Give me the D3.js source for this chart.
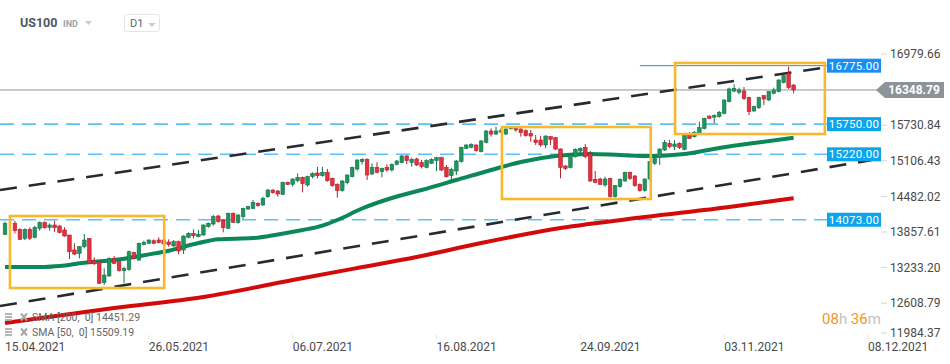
<!DOCTYPE html>
<html>
<head>
<meta charset="utf-8">
<script src="https://cdn.jsdelivr.net/npm/d3@7"></script>
<style>
body { margin: 0; background: #fff; }
svg { display: block; font-family: Roboto, "Noto Sans", sans-serif; }
</style>
</head>
<body>
<svg id="chart"></svg>
<script>
// daily candles [open, high, low, close], one per bar (null = no bar)
let candles = [
  [13816,14039,13805,14009], null, [14009,14056,13834,13881], [13904,13922,13717,13729],
  [13746,13922,13717,13904], [13904,13939,13717,13746], [13764,13963,13746,13939], [13922,14044,13881,14021],
  [14027,14044,13916,13933], [13939,14009,13881,13980], [13980,14056,13857,13933], [13963,13974,13834,13846],
  [13893,13939,13776,13787], [13805,13805,13384,13512], [13542,13659,13454,13472], [13483,13612,13395,13600],
  [13600,13822,13571,13717], [13746,13746,13296,13308], [13354,13413,13279,13308], [13337,13337,12945,12957],
  [12969,13220,12928,13103], [13086,13413,13074,13395], [13395,13436,13296,13308], [13337,13337,13162,13179],
  [13179,13249,12957,13220], [13203,13530,13179,13512], [13495,13512,13378,13395], [13366,13670,13354,13659],
  [13635,13705,13624,13676], [13659,13729,13647,13717], [13705,13729,13647,13659], [13717,13764,13659,13670],
  [13717,13729,13629,13647], [13682,13729,13600,13635], [13612,13717,13600,13688], [13688,13705,13466,13524],
  [13542,13799,13472,13787], [13764,13852,13746,13834], [13834,13904,13746,13793], [13776,13893,13764,13816],
  [13805,13992,13793,13980], [13951,14027,13933,14009], [13998,14156,13968,14126], [14138,14156,14021,14039],
  [14068,14085,13851,13933], [13922,14197,13910,14185], [14185,14202,14015,14027], [14021,14167,14004,14156],
  [14126,14284,14085,14272], [14261,14319,14243,14302], [14272,14419,14261,14378], [14360,14378,14302,14319],
  [14331,14477,14319,14448], [14477,14612,14460,14594], [14594,14606,14530,14547], [14577,14594,14477,14524],
  [14518,14740,14506,14729], [14729,14740,14682,14693], [14693,14799,14653,14787], [14758,14886,14729,14816],
  [14816,14828,14553,14705], [14682,14845,14653,14828], [14828,14904,14799,14886], [14892,14998,14799,14846],
  [14846,14998,14828,14904], [14904,14963,14740,14758], [14799,14810,14653,14670], [14693,14711,14460,14582],
  [14582,14770,14565,14752], [14723,14869,14693,14857], [14828,15003,14816,14992], [14962,15132,14933,15120],
  [15091,15150,15044,15132], [15132,15150,14770,14857], [14875,15062,14857,14992], [14992,15079,14886,14904],
  [14916,14986,14816,14974], [14992,15044,14916,14945], [14945,15062,14916,15044], [15044,15120,15027,15103],
  [15074,15208,15062,15191], [15191,15208,15050,15109], [15074,15161,15003,15132], [15138,15161,15015,15033],
  [15074,15120,14974,15003], [14992,15132,14974,15109], [15062,15150,15050,15132], [15109,15179,14927,15161],
  [15161,15179,14927,14945], [14992,15033,14810,14828], [14846,14986,14752,14957], [14927,15120,14857,15103],
  [15091,15354,15074,15343], [15325,15395,15313,15384], [15343,15413,15325,15395], [15384,15395,15267,15284],
  [15267,15471,15255,15454], [15430,15647,15413,15629], [15629,15676,15530,15576], [15576,15705,15559,15629],
  [15610,15670,15590,15640], [15576,15676,15559,15664], [15670,15705,15658,15693], [15676,15693,15617,15647],
  [15664,15676,15530,15600], [15635,15658,15530,15547], [15588,15647,15442,15541], [15471,15559,15384,15424],
  [15471,15541,15354,15384], [15384,15553,15325,15541], [15530,15541,15384,15483], [15512,15518,15296,15313],
  [15313,15325,14799,14992], [15015,15033,14945,14974], [14992,15226,14974,15208], [15179,15325,15161,15308],
  [15278,15343,15191,15325], [15343,15401,15150,15179], [15230,15278,14740,14752], [14781,14927,14711,14729],
  [14787,14810,14682,14693], [14682,14828,14653,14787], [14799,14810,14460,14477], [14477,14682,14460,14670],
  [14653,14799,14635,14781], [14752,14916,14740,14904], [14904,14916,14770,14799], [14840,14857,14653,14670],
  [14693,14711,14565,14582], [14582,14799,14565,14787], [14787,15103,14770,15091], [15062,15196,15033,15161],
  [15161,15325,15033,15313], [15296,15471,15278,15430], [15413,15471,15325,15354], [15354,15471,15296,15401],
  [15413,15430,15313,15337], [15308,15570,15290,15559], [15559,15606,15489,15500], [15530,15629,15512,15606],
  [15588,15793,15570,15688], [15676,15863,15658,15851], [15892,15898,15839,15851], [15880,15922,15763,15898],
  [15880,15980,15863,15956], [15939,16184,15921,16173], [16144,16389,16132,16366], [16330,16448,16307,16377],
  [16307,16389,16272,16348], [16330,16401,16173,16202], [16214,16231,15910,15968], [15980,16073,15968,16056],
  [16038,16231,16015,16214], [16249,16260,16085,16190], [16173,16331,16155,16319], [16290,16389,16272,16348],
  [16319,16535,16307,16524], [16477,16623,16465,16600], [16640,16758,16366,16389], [16436,16448,16290,16348.79]
];

// moving averages [bar, value]
let sma50 = [[0,13243],[8,13245],[11,13260],[16,13320],[20,13350],[24,13390],[28,13450],[33,13530],[39,13664],
  [43,13730],[50,13752],[55,13815],[60,13892],[64,13970],[67,14068],[72,14270],[78,14454],[84,14594],[91,14769],
  [98,14945],[104,15085],[111,15190],[118,15226],[124,15208],[130,15190],[137,15226],[144,15331],[151,15419],[159,15509.19]];
let sma200 = [[0,12261],[22,12524],[40,12717],[58,13015],[71,13226],[83,13419],[96,13664],[112,13927],
  [129,14120],[146,14296],[159,14451.29]];

// drawn channel lines [bar, price]
let channelUpper = [[-1,14594],[164.7,16734]];
let channelLower = [[-1,12559],[174.8,15120]];

// highlighted zones [fromBar, toBar, top, bottom]
let zones = [[1,32.1,14138,12875],[100.2,130.2,15699,14436],[135.1,165.3,16822,15576]];

let levels = [16775, 15750, 15220, 14073];
let lastPrice = 16348.79;

let yTicks = [16979.66, 15730.84, 15106.43, 14482.02, 13857.61, 13233.20, 12608.79, 11984.37];
let dateIdx = [0, 29, 58, 87, 116, 145, 174];
let dateLabels = ["15.04.2021", "26.05.2021", "06.07.2021", "16.08.2021", "24.09.2021", "03.11.2021", "08.12.2021"];

let W = 950, H = 364;
let svg = d3.select('#chart').attr('width', W).attr('height', H);

let x = d3.scaleLinear().domain([0, 174]).range([5, 868]);
let y = d3.scaleLinear().domain([11984.37, 16979.66]).range([338.8, 54]);

// header
svg.append('text').attr('x', 20).attr('y', 27).attr('font-size', 12.5).attr('font-weight', 700)
  .attr('fill', '#4d5862').text('US100');
svg.append('text').attr('x', 63).attr('y', 27).attr('font-size', 9).attr('font-weight', 700)
  .attr('fill', '#9aa4ad').text('IND');
svg.append('path').attr('d', 'M85,21 L92,21 L88.5,25 Z').attr('fill', '#c8cdd2');
svg.append('rect').attr('x', 124.5).attr('y', 14.5).attr('width', 35).attr('height', 17).attr('rx', 2)
  .attr('fill', '#fff').attr('stroke', '#e3e6e9');
svg.append('text').attr('x', 130).attr('y', 27).attr('font-size', 11).attr('fill', '#5b6670').text('D1');
svg.append('path').attr('d', 'M148,23 L156,23 L152,27 Z').attr('fill', '#c8cdd2');

// horizontal levels
levels.forEach(function (v, k) {
  if (k === 0) {
    svg.append('line').attr('x1', x(128)).attr('x2', 827).attr('y1', y(v)).attr('y2', y(v))
      .attr('stroke', '#1e90f0').attr('stroke-width', 1);
  } else {
    svg.append('line').attr('x1', 0).attr('x2', 827).attr('y1', y(v)).attr('y2', y(v))
      .attr('stroke', '#5cc0f2').attr('stroke-width', 1.6).attr('stroke-dasharray', '14,8');
  }
});

// last price line
svg.append('line').attr('x1', 0).attr('x2', 878).attr('y1', y(lastPrice)).attr('y2', y(lastPrice))
  .attr('stroke', '#8d969b').attr('stroke-width', 1);

// moving averages
let line = d3.line().x(function (d) { return x(d[0]); }).y(function (d) { return y(d[1]); }).curve(d3.curveMonotoneX);
svg.append('path').attr('d', line(sma200)).attr('fill', 'none').attr('stroke', '#d30a0a').attr('stroke-width', 4);
svg.append('path').attr('d', line(sma50)).attr('fill', 'none').attr('stroke', '#0c8757').attr('stroke-width', 4);

// channel
[channelUpper, channelLower].forEach(function (c) {
  svg.append('line').attr('x1', x(c[0][0])).attr('y1', y(c[0][1])).attr('x2', x(c[1][0])).attr('y2', y(c[1][1]))
    .attr('stroke', '#262b30').attr('stroke-width', 2.6).attr('stroke-dasharray', '17,12');
});

// candles
let bars = svg.append('g').selectAll('g')
  .data(candles.map(function (c, i) { return c ? { i: i, o: c[0], h: c[1], l: c[2], c: c[3] } : null; })
    .filter(function (d) { return d; }))
  .enter().append('g');

bars.append('line')
  .attr('x1', function (d) { return x(d.i); }).attr('x2', function (d) { return x(d.i); })
  .attr('y1', function (d) { return y(d.h); }).attr('y2', function (d) { return y(d.l); })
  .attr('stroke', function (d) { return d.c >= d.o ? '#16734b' : '#b3202c'; }).attr('stroke-width', 1);

bars.append('rect')
  .attr('x', function (d) { return x(d.i) - 1.8; }).attr('width', 3.6)
  .attr('y', function (d) { return y(Math.max(d.o, d.c)); })
  .attr('height', function (d) { return Math.max(1.5, Math.abs(y(d.o) - y(d.c))); })
  .attr('fill', function (d) { return d.c >= d.o ? '#21955f' : '#e2313f'; })
  .attr('stroke', function (d) { return d.c >= d.o ? '#16734b' : '#b3202c'; }).attr('stroke-width', 0.6);

// zones
svg.append('g').selectAll('rect').data(zones).enter().append('rect')
  .attr('x', function (d) { return x(d[0]); }).attr('width', function (d) { return x(d[1]) - x(d[0]); })
  .attr('y', function (d) { return y(d[2]); }).attr('height', function (d) { return y(d[3]) - y(d[2]); })
  .attr('fill', 'none').attr('stroke', '#f6b82c').attr('stroke-width', 2.6);

// y axis
let yAxis = svg.append('g');
yTicks.forEach(function (t) {
  let yy = Math.min(y(t), 333);
  yAxis.append('line').attr('x1', 881).attr('x2', 887).attr('y1', yy).attr('y2', yy).attr('stroke', '#d6d6d6');
  yAxis.append('text').attr('x', 890).attr('y', yy).attr('dy', '0.35em').attr('font-size', 12)
    .attr('fill', '#4a4a4a').text(d3.format('.2f')(t));
});

// level labels
levels.forEach(function (v, k) {
  svg.append('rect').attr('x', 827).attr('y', y(v) - 7).attr('width', 54).attr('height', 14)
    .attr('fill', k === 0 ? '#1a8df2' : '#0ca4ea');
  svg.append('text').attr('x', 854).attr('y', y(v)).attr('dy', '0.36em').attr('text-anchor', 'middle')
    .attr('font-size', 11.5).attr('fill', '#fff').attr('letter-spacing', 0.3).text(d3.format('.2f')(v));
});

// last price label
let ly = y(lastPrice);
svg.append('path')
  .attr('d', 'M876,' + ly + ' L885,' + (ly - 8) + ' L944,' + (ly - 8) + ' L944,' + (ly + 8) + ' L885,' + (ly + 8) + ' Z')
  .attr('fill', '#8a9499');
svg.append('text').attr('x', 914).attr('y', ly).attr('dy', '0.36em').attr('text-anchor', 'middle')
  .attr('font-size', 12).attr('font-weight', 700).attr('fill', '#fff').text(d3.format('.2f')(lastPrice));

// date axis
dateIdx.forEach(function (i, k) {
  svg.append('line').attr('x1', x(i)).attr('x2', x(i)).attr('y1', 335).attr('y2', 339).attr('stroke', '#e2e2e2');
  svg.append('text').attr('x', x(i)).attr('y', 351).attr('font-size', 12).attr('fill', '#4a4a4a').text(dateLabels[k]);
});

// legend
let legend = [['SMA [200,  0] ', sma200[sma200.length - 1][1]], ['SMA [50,  0] ', sma50[sma50.length - 1][1]]];
legend.forEach(function (d, k) {
  let ly2 = 317 + k * 15;
  let g = svg.append('g');
  [-3, 0, 3].forEach(function (o) {
    g.append('rect').attr('x', 5).attr('y', ly2 + o - 0.8).attr('width', 7).attr('height', 1.6).attr('fill', '#a6a6a6');
  });
  g.append('path').attr('d', 'M21,' + (ly2 - 3.5) + ' L27,' + (ly2 + 3.5) + ' M27,' + (ly2 - 3.5) + ' L21,' + (ly2 + 3.5))
    .attr('stroke', '#a6a6a6').attr('stroke-width', 2);
  g.append('text').attr('x', 32).attr('y', ly2).attr('dy', '0.35em').attr('font-size', 10.5).attr('fill', '#666')
    .attr('xml:space', 'preserve').text(d[0] + d3.format('.2f')(d[1]));
});

// session timer
let timer = svg.append('text').attr('x', 822).attr('y', 319).attr('dy', '0.35em').attr('font-size', 15);
timer.append('tspan').attr('fill', '#f7941d').text('08');
timer.append('tspan').attr('fill', '#c3c3c3').text('h ');
timer.append('tspan').attr('fill', '#f7941d').text('36');
timer.append('tspan').attr('fill', '#c3c3c3').text('m');
</script>
</body>
</html>
